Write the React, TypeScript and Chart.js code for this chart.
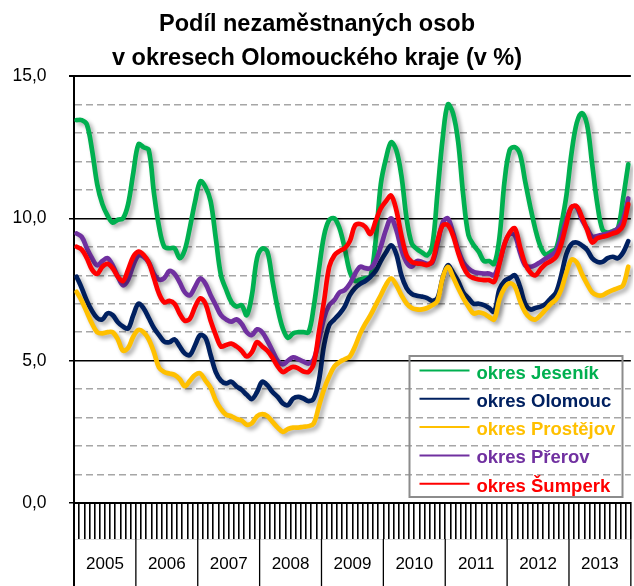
import React, { useEffect, useRef } from 'react';
import { Chart, registerables } from 'chart.js';

Chart.register(...registerables);

const FONT = "'Liberation Sans', Arial, Helvetica, sans-serif";

const titleLines = ['Podíl nezaměstnaných osob', 'v okresech Olomouckého kraje (v %)'];
const years = ['2005', '2006', '2007', '2008', '2009', '2010', '2011', '2012', '2013'];
const months = ['1', '2', '3', '4', '5', '6', '7', '8', '9', '10', '11', '12'];
const monthLabels = years.flatMap((y) => months.map((m) => `${m}/${y}`));
const yTickLabelValues = [0, 5, 10, 15];

const seriesNames = ['okres Jeseník', 'okres Olomouc', 'okres Prostějov', 'okres Přerov', 'okres Šumperk'];
const seriesColors = ['#00B050', '#002060', '#FFC000', '#7030A0', '#FF0000'];

const jesenik = [
  13.45, 13.45, 13.3, 12.4, 11.2, 10.5, 10.1, 9.85, 9.95, 10.0, 10.5, 11.6,
  12.6, 12.5, 12.4, 10.9, 9.7, 9.0, 8.95, 8.95, 8.6, 8.9, 9.7, 10.6,
  11.3, 11.1, 10.6, 9.3, 8.0, 7.5, 7.07, 6.9, 6.95, 6.6, 7.3, 8.6,
  8.94, 8.83, 7.8, 6.84, 6.13, 5.8, 5.96, 6.0, 6.0, 6.0, 6.9, 8.2,
  9.4, 9.94, 10.0, 9.65, 8.95, 8.12, 7.8, 7.85, 7.9, 7.95, 9.2, 11.2,
  12.1, 12.67, 12.4, 11.5, 10.0, 9.12, 8.92, 8.8, 8.7, 9.06, 10.9, 12.8,
  14.0, 13.7, 12.7, 10.8, 9.41, 9.06, 8.83, 8.5, 8.5, 8.4, 9.3, 11.3,
  12.4, 12.5, 12.25, 11.3, 10.4, 9.6, 9.0, 8.72, 8.83, 8.94, 9.76, 10.8,
  12.3, 13.35, 13.7, 13.3, 11.9, 10.5, 9.6, 9.5, 9.55, 9.65, 10.7, 11.9,
];

const olomouc = [
  7.95, 7.55, 7.1, 6.75, 6.5, 6.45, 6.66, 6.6, 6.35, 6.2, 6.13, 6.6,
  7.0, 6.84, 6.5, 6.15, 5.9, 5.67, 5.65, 5.75, 5.5, 5.25, 5.2, 5.55,
  5.9, 5.8, 5.2, 4.6, 4.3, 4.2, 4.26, 4.1, 3.98, 3.8, 3.65, 3.9,
  4.26, 4.14, 3.9, 3.73, 3.5, 3.44, 3.67, 3.73, 3.67, 3.58, 3.67, 4.3,
  5.55, 6.25, 6.45, 6.65, 6.9, 7.3, 7.55, 7.7, 7.8, 7.95, 8.15, 8.5,
  8.8, 9.05, 8.75, 8.0, 7.55, 7.35, 7.28, 7.25, 7.2, 7.1, 7.2, 7.9,
  8.35, 8.1, 7.8, 7.4, 7.2, 7.0, 7.0, 6.95, 6.85, 6.72, 7.5, 7.8,
  7.9, 8.0, 7.6, 7.0, 6.8, 6.85, 6.9, 7.0, 7.2, 7.4, 8.0, 8.75,
  9.1, 9.15, 9.05, 8.9, 8.6, 8.47, 8.47, 8.6, 8.65, 8.6, 8.8, 9.2,
];

const prostejov = [
  7.42, 7.1, 6.7, 6.3, 6.0, 5.96, 6.0, 6.0, 5.75, 5.35, 5.45, 5.85,
  6.08, 6.0, 5.75, 5.3, 4.75, 4.6, 4.55, 4.5, 4.35, 4.1, 4.3, 4.5,
  4.55, 4.3, 4.05, 3.6, 3.3, 3.1, 3.05, 2.95, 2.9, 2.75, 2.8, 3.05,
  3.12, 3.05, 2.85, 2.65, 2.5, 2.6, 2.65, 2.65, 2.68, 2.7, 2.8, 3.4,
  4.0, 4.45, 4.8, 4.95, 5.05, 5.15, 5.5, 5.95, 6.3, 6.6, 6.95, 7.3,
  7.66, 7.89, 7.66, 7.3, 7.01, 6.85, 6.8, 6.8, 6.85, 6.95, 7.1, 7.9,
  8.3, 7.95, 7.55, 7.2, 6.9, 6.66, 6.7, 6.65, 6.54, 6.45, 7.15, 7.55,
  7.72, 7.6, 7.1, 6.7, 6.5, 6.45, 6.6, 6.8, 7.0, 7.15, 7.5, 8.1,
  8.55, 8.45, 8.05, 7.7, 7.4, 7.3, 7.3, 7.4, 7.48, 7.55, 7.65, 8.3,
];

const prerov = [
  9.47, 9.35, 8.95, 8.6, 8.35, 8.5, 8.6, 8.35, 7.95, 7.65, 7.85, 8.35,
  8.7, 8.65, 8.45, 8.05, 7.85, 7.9, 8.15, 8.05, 7.75, 7.4, 7.3, 7.6,
  7.89, 7.7, 7.3, 6.95, 6.6, 6.45, 6.37, 6.45, 6.3, 6.0, 5.9, 6.1,
  6.0, 5.7, 5.35, 5.0, 4.87, 5.0, 5.12, 5.05, 4.97, 4.9, 5.05, 5.7,
  6.5, 6.95, 7.13, 7.4, 7.48, 7.7, 8.05, 8.3, 8.25, 8.25, 8.5, 9.0,
  9.6, 10.0, 9.6, 8.9, 8.45, 8.3, 8.5, 8.47, 8.4, 8.45, 9.1, 9.85,
  10.0, 9.5, 8.9, 8.45, 8.24, 8.12, 8.08, 8.06, 8.06, 8.0, 8.45, 9.1,
  9.45, 9.4, 8.8, 8.35, 8.3, 8.36, 8.47, 8.59, 8.7, 8.85, 9.35, 9.95,
  10.4, 10.4, 9.95, 9.65, 9.35, 9.38, 9.42, 9.47, 9.53, 9.65, 9.95, 10.7,
];

const sumperk = [
  9.0, 8.9, 8.6, 8.2, 8.05, 8.3, 8.4, 8.25, 7.95, 7.8, 8.2, 8.65,
  8.83, 8.72, 8.45, 7.9, 7.35, 7.05, 7.1, 7.0, 6.65, 6.4, 6.48, 6.9,
  7.19, 7.0, 6.4, 5.9, 5.5, 5.55, 5.6, 5.5, 5.35, 5.15, 5.3, 5.65,
  5.5, 5.35, 5.1, 4.8, 4.6, 4.7, 4.78, 4.73, 4.62, 4.61, 4.9, 6.0,
  7.1, 8.3, 8.7, 8.85, 8.95, 9.2, 9.75, 9.8, 9.7, 9.45, 9.9, 10.35,
  10.6, 10.8, 10.3, 9.4, 8.7, 8.47, 8.42, 8.4, 8.36, 8.5, 9.2, 9.75,
  9.76, 9.4, 8.8, 8.3, 8.0, 7.9, 7.85, 7.83, 7.83, 7.77, 8.4, 9.1,
  9.5, 9.65, 9.0, 8.4, 8.1, 8.0, 8.22, 8.4, 8.5, 8.65, 9.1, 9.8,
  10.4, 10.42, 10.05, 9.6, 9.15, 9.3, 9.35, 9.4, 9.47, 9.53, 9.75, 10.5,
];

const seriesValues = [jesenik, olomouc, prostejov, prerov, sumperk];
// draw order: later series on top (lower "order" is drawn last in Chart.js)
const seriesOrder = [5, 4, 3, 2, 1];

const isMajor = (v: number) => yTickLabelValues.includes(v);

const shadowPlugin = {
  id: 'lineShadow',
  beforeDatasetDraw(chart: any) {
    const ctx = chart.ctx;
    ctx.save();
    ctx.shadowColor = 'rgba(0,0,0,0.33)';
    ctx.shadowBlur = 4;
    ctx.shadowOffsetX = 3;
    ctx.shadowOffsetY = 3;
  },
  afterDatasetDraw(chart: any) {
    chart.ctx.restore();
  },
};

const axisDecorPlugin = {
  id: 'axisDecor',
  afterDraw(chart: any) {
    const ctx = chart.ctx;
    const x = chart.scales.x;
    const x2 = chart.scales.x2;
    const half = (x.getPixelForValue(1) - x.getPixelForValue(0)) / 2;
    ctx.save();
    ctx.strokeStyle = '#d9d9d9';
    ctx.lineWidth = 1;
    ctx.beginPath();
    ctx.moveTo(x.left, Math.round(x2.top) + 0.5);
    ctx.lineTo(x.right, Math.round(x2.top) + 0.5);
    ctx.stroke();
    ctx.strokeStyle = '#000';
    for (let k = 0; k <= years.length; k++) {
      const px = k === years.length ? x.right : x.getPixelForValue(k * months.length) - half;
      ctx.lineWidth = k === 0 ? 2 : 1.3;
      ctx.beginPath();
      ctx.moveTo(px, k === 0 ? x.top : x2.top);
      ctx.lineTo(px, chart.height);
      ctx.stroke();
    }
    ctx.restore();
  },
};

const legendPlugin = {
  id: 'boxLegend',
  afterDraw(chart: any) {
    const ctx = chart.ctx;
    const left = 409.5;
    const top = 356;
    const w = 213;
    const h = 141;
    ctx.save();
    ctx.strokeStyle = '#8c8c8c';
    ctx.lineWidth = 2;
    ctx.strokeRect(left, top, w, h);
    ctx.font = `bold 18.5px ${FONT}`;
    ctx.textAlign = 'left';
    ctx.textBaseline = 'alphabetic';
    seriesNames.forEach((name, i) => {
      const ly = top + 14.5 + i * 28.3;
      ctx.strokeStyle = seriesColors[i];
      ctx.lineWidth = 2;
      ctx.beginPath();
      ctx.moveTo(left + 10, ly);
      ctx.lineTo(left + 60, ly);
      ctx.stroke();
      ctx.fillStyle = seriesColors[i];
      ctx.fillText(name, left + 67, ly + 8);
    });
    ctx.restore();
  },
};

export default function App() {
  const ref = useRef<HTMLCanvasElement | null>(null);

  useEffect(() => {
    if (!ref.current) return;
    const chart = new Chart(ref.current, {
      type: 'line',
      data: {
        labels: monthLabels,
        datasets: seriesNames.map((name, i) => ({
          label: name,
          data: seriesValues[i],
          borderColor: seriesColors[i],
          backgroundColor: seriesColors[i],
          borderWidth: 4.7,
          borderCapStyle: 'round',
          borderJoinStyle: 'round',
          pointRadius: 0,
          tension: 0.35,
          fill: false,
          order: seriesOrder[i],
        })),
      },
      options: {
        responsive: false,
        maintainAspectRatio: false,
        animation: false,
        devicePixelRatio: 1,
        events: [],
        layout: { padding: 0 },
        plugins: {
          legend: { display: false },
          tooltip: { enabled: false },
          title: {
            display: true,
            text: titleLines,
            color: '#000',
            font: { family: FONT, size: 23.5, weight: 'bold', lineHeight: 1.46 },
            padding: { top: 7, bottom: 0.4 },
          },
        },
        scales: {
          x: {
            type: 'category',
            position: 'bottom',
            weight: 0,
            offset: true,
            afterFit: (s: any) => { s.height = 36; },
            grid: {
              offset: true,
              drawOnChartArea: false,
              drawTicks: true,
              tickLength: 36,
              color: '#000',
              lineWidth: 1.6,
            },
            border: { display: true, color: '#000', width: 2 },
            ticks: { display: false, autoSkip: false },
          },
          x2: {
            type: 'category',
            position: 'bottom',
            weight: 1,
            labels: years,
            offset: true,
            afterFit: (s: any) => { s.height = 47; },
            grid: { display: false, drawTicks: false },
            border: { display: false },
            ticks: {
              autoSkip: false,
              maxRotation: 0,
              color: '#000',
              padding: 15,
              font: { family: FONT, size: 17 },
            },
          },
          y: {
            type: 'linear',
            min: 0,
            max: 15,
            afterFit: (s: any) => { s.width = 74; },
            ticks: {
              stepSize: 1,
              color: '#000',
              padding: 22.5,
              font: { family: FONT, size: 17.5 },
              callback: (v: any) => (isMajor(Number(v)) ? Number(v).toFixed(1).replace('.', ',') : ''),
            },
            grid: {
              drawTicks: true,
              tickLength: 5,
              color: (c: any) => (c.tick && isMajor(c.tick.value) ? '#000' : '#A6A6A6'),
              tickColor: (c: any) => (c.tick && isMajor(c.tick.value) ? '#000' : 'rgba(0,0,0,0)'),
              lineWidth: (c: any) => (c.tick && isMajor(c.tick.value) ? (c.tick.value === 15 ? 2 : 1.5) : 1.5),
            },
            border: {
              display: true,
              color: '#000',
              width: 2,
              dash: (c: any) => (c.tick && !isMajor(c.tick.value) ? [7, 4] : []),
            },
          },
        },
      },
      plugins: [shadowPlugin, axisDecorPlugin, legendPlugin],
    } as any);
    return () => chart.destroy();
  }, []);

  return (
    <div style={{ position: 'fixed', left: 0, top: 0, width: 634, height: 586, background: '#fff' }}>
      <canvas ref={ref} width={634} height={586} style={{ width: 634, height: 586, display: 'block' }} />
    </div>
  );
}
